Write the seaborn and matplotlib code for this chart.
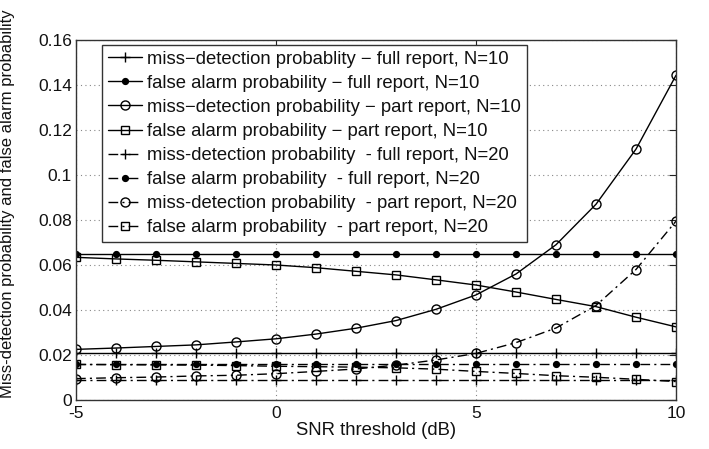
import numpy as np
import pandas as pd
import matplotlib
matplotlib.use("Agg")
import matplotlib.pyplot as plt
import seaborn as sns

snr_db = [-5, -4, -3, -2, -1, 0, 1, 2, 3, 4, 5, 6, 7, 8, 9, 10]

miss_full_n10 = [0.0207] * 16
fa_full_n10 = [0.0649] * 16
miss_part_n10 = [0.0225, 0.0231, 0.0238, 0.0245, 0.0258, 0.0272, 0.0293, 0.0319,
                 0.0353, 0.0403, 0.0467, 0.0560, 0.0690, 0.0870, 0.1115, 0.1443]
fa_part_n10 = [0.0634, 0.0627, 0.0621, 0.0614, 0.0607, 0.0600, 0.0588, 0.0572,
               0.0556, 0.0534, 0.0511, 0.0480, 0.0447, 0.0415, 0.0368, 0.0325]
miss_full_n20 = [0.0090] * 16
fa_full_n20 = [0.0158] * 16
miss_part_n20 = [0.0095, 0.0099, 0.0102, 0.0107, 0.0110, 0.0117, 0.0127, 0.0138,
                 0.0155, 0.0178, 0.0207, 0.0255, 0.0320, 0.0420, 0.0580, 0.0795]
fa_part_n20 = [0.0158, 0.0157, 0.0156, 0.0155, 0.0153, 0.0150, 0.0148, 0.0146,
               0.0143, 0.0137, 0.0127, 0.0118, 0.0108, 0.0101, 0.0092, 0.0082]

labels = [
    "miss\u2212detection probablity \u2212 full report, N=10",
    "false alarm probability \u2212 full report, N=10",
    "miss\u2212detection probability \u2212 part report, N=10",
    "false alarm probability \u2212 part report, N=10",
    "miss-detection probability  - full report, N=20",
    "false alarm probability  - full report, N=20",
    "miss-detection probability  - part report, N=20",
    "false alarm probability  - part report, N=20",
]
series = [miss_full_n10, fa_full_n10, miss_part_n10, fa_part_n10,
          miss_full_n20, fa_full_n20, miss_part_n20, fa_part_n20]

x_ticks = [-5, 0, 5, 10]
y_ticks = [0, 0.02, 0.04, 0.06, 0.08, 0.1, 0.12, 0.14, 0.16]
y_tick_labels = ["0", "0.02", "0.04", "0.06", "0.08", "0.1", "0.12", "0.14", "0.16"]

sns.set_theme(style="white")
plt.rcParams["font.family"] = ["Liberation Sans", "DejaVu Sans"]

fig = plt.figure(figsize=(7.09, 4.49), dpi=100)
ax = fig.add_axes([76 / 709, 1 - 400 / 449, 600 / 709, 360 / 449])

dashdot = (0, (7, 3, 1.5, 3))
styles = [
    dict(marker="+", ms=7, mfc="black", linestyle="-"),
    dict(marker="o", ms=4.2, mfc="black", linestyle="-"),
    dict(marker="o", ms=6.5, mfc="none", linestyle="-"),
    dict(marker="s", ms=6, mfc="none", linestyle="-"),
    dict(marker="+", ms=7, mfc="black", linestyle=dashdot),
    dict(marker="o", ms=4.2, mfc="black", linestyle=dashdot),
    dict(marker="o", ms=6.5, mfc="none", linestyle=dashdot),
    dict(marker="s", ms=6, mfc="none", linestyle=dashdot),
]

for vals, lab, st in zip(series, labels, styles):
    df = pd.DataFrame({"snr": snr_db, "p": vals})
    sns.lineplot(data=df, x="snr", y="p", ax=ax, color="black", lw=1.0,
                 marker=st["marker"], markersize=st["ms"],
                 markerfacecolor=st["mfc"], markeredgecolor="black",
                 markeredgewidth=1.0, linestyle=st["linestyle"], label=lab)

ax.set_xlim(-5, 10)
ax.set_ylim(0, 0.16)
ax.set_xticks(x_ticks)
ax.set_xticklabels([str(t) for t in x_ticks])
ax.set_yticks(y_ticks)
ax.set_yticklabels(y_tick_labels)
ax.grid(True, linestyle=(0, (1, 3)), color="#888888", linewidth=0.8)
ax.tick_params(direction="in", length=5, width=0.8, top=True, right=True,
               labelsize=12.5, pad=3, colors="#222222", labelcolor="#111111")
ax.tick_params(axis="x", pad=4)
for s in ax.spines.values():
    s.set_color("#333333")
    s.set_linewidth(1.0)

ax.set_xlabel("SNR threshold (dB)", fontsize=13.3, color="#111111", labelpad=1)
ax.set_ylabel("Miss-detection probability and false alarm probability",
              fontsize=12.0, color="#111111")
ax.yaxis.set_label_coords(-61 / 600, 0.545)

leg = ax.legend(loc="upper left", bbox_to_anchor=(26 / 600, 1 - 5 / 360),
                fontsize=13.3, frameon=True, fancybox=False, framealpha=1,
                edgecolor="#333333", handlelength=1.85, handletextpad=0.27,
                labelspacing=0.38, borderpad=0.32, borderaxespad=0)
leg.get_frame().set_linewidth(1.0)
for t in leg.get_texts():
    t.set_color("#111111")

fig.savefig("out.png", dpi=100, facecolor="white")
